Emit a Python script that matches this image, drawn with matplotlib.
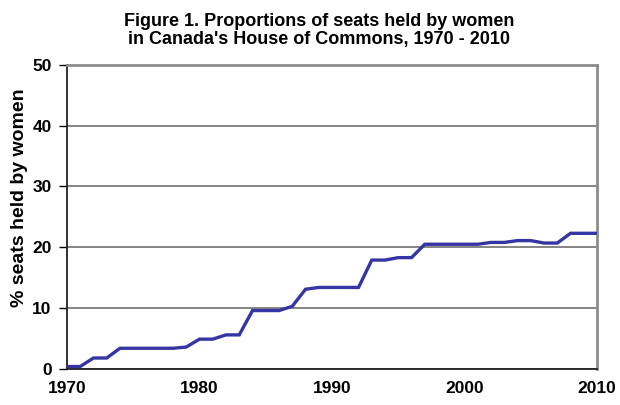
import matplotlib
matplotlib.use("Agg")
import matplotlib.pyplot as plt

# share of House of Commons seats held by women, one value per year
years = list(range(1970, 2011))
pct_women = [0.4, 0.4, 1.8, 1.8, 3.4, 3.4, 3.4, 3.4, 3.4, 3.6,
             4.9, 4.9, 5.6, 5.6, 9.6, 9.6, 9.6, 10.3, 13.1, 13.4,
             13.4, 13.4, 13.4, 17.9, 17.9, 18.3, 18.3, 20.5, 20.5, 20.5,
             20.5, 20.5, 20.8, 20.8, 21.1, 21.1, 20.7, 20.7, 22.3, 22.3,
             22.3]
x_ticks = [1970, 1980, 1990, 2000, 2010]
y_ticks = [0, 10, 20, 30, 40, 50]

plt.rcParams['font.family'] = ['Liberation Sans', 'DejaVu Sans']

fig = plt.figure(figsize=(6.2, 4.05), dpi=100)
ax = fig.add_axes([0.108, 0.089, 0.855, 0.751])

ax.plot(years, pct_women, color='#3535a3', lw=2.4, solid_joinstyle='miter', zorder=3)

ax.set_xlim(1970, 2010)
ax.set_ylim(0, 50)
ax.set_xticks(x_ticks)
ax.set_yticks(y_ticks)
ax.set_xticklabels([str(t) for t in x_ticks], fontsize=12.5, fontweight='bold')
ax.set_yticklabels([str(t) for t in y_ticks], fontsize=12.5, fontweight='bold')
ax.tick_params(axis='x', length=0, pad=9)
ax.tick_params(axis='y', length=6, width=1, direction='out', pad=5)

ax.yaxis.grid(True, color='#707070', lw=1.2)
ax.set_axisbelow(True)

for side in ['top', 'right']:
    ax.spines[side].set_color('#8c8c8c')
    ax.spines[side].set_linewidth(2)
ax.spines['left'].set_color('#222222')
ax.spines['left'].set_linewidth(1.3)
ax.spines['bottom'].set_color('#222222')
ax.spines['bottom'].set_linewidth(1.3)

fig.text(0.031, 0.512, '% seats held by women', rotation=90, ha='center', va='center',
         fontsize=14, fontweight='bold')
fig.text(0.515, 0.968, "Figure 1. Proportions of seats held by women\nin Canada's House of Commons, 1970 - 2010",
         ha='center', va='top', fontsize=13, fontweight='bold', linespacing=1.1)

fig.savefig('out.png', dpi=100, facecolor='white')
